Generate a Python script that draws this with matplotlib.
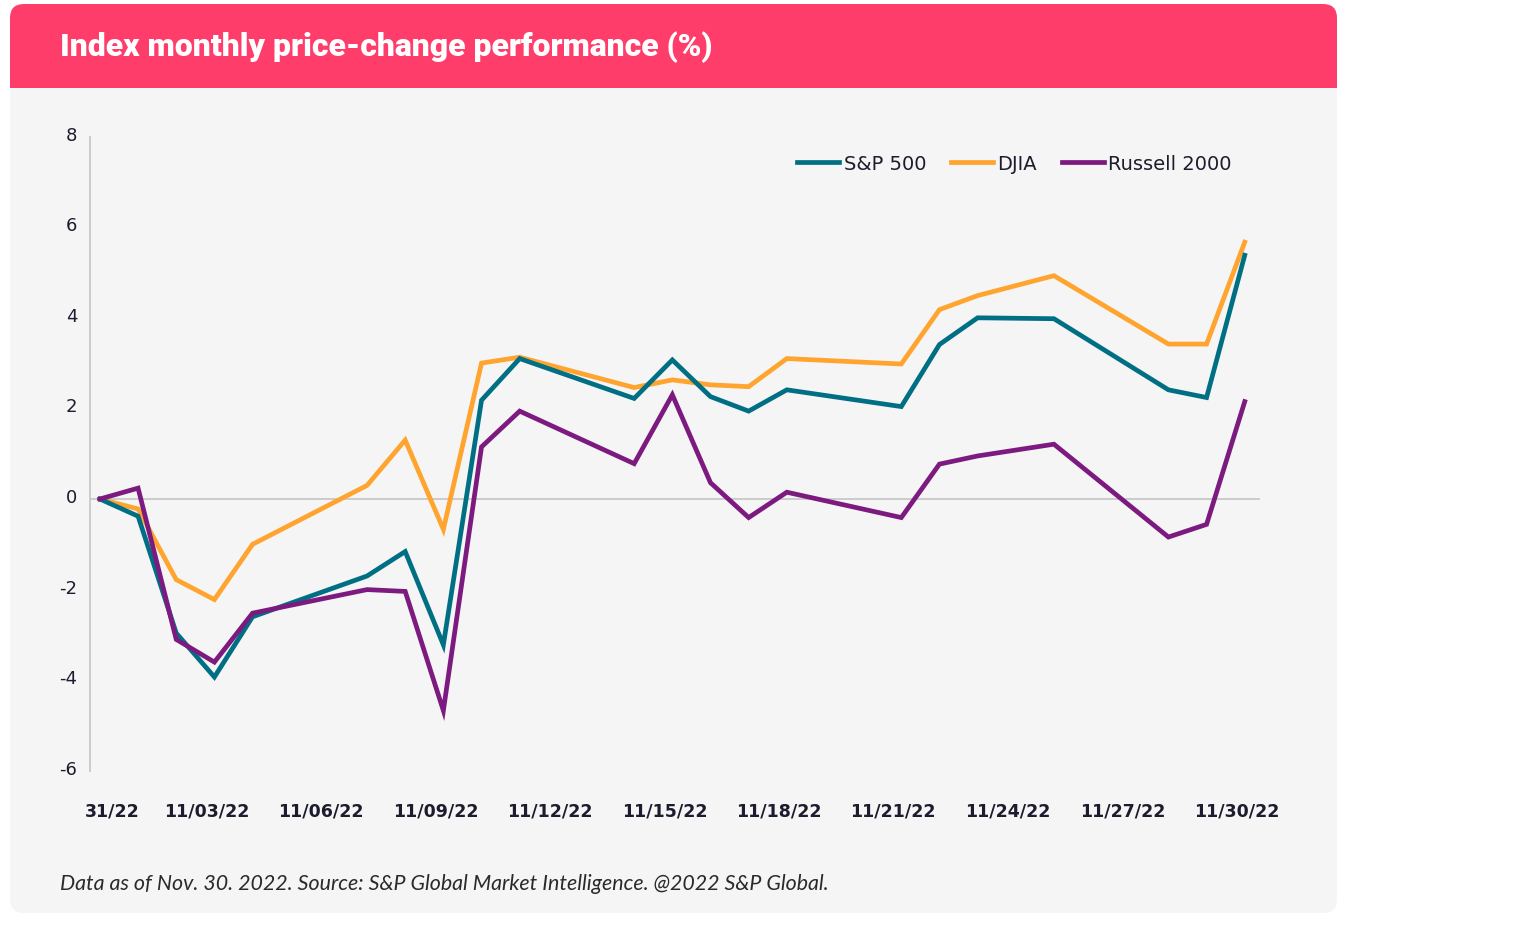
import numpy as np
import matplotlib
matplotlib.use("Agg")
import matplotlib.pyplot as plt
import matplotlib.dates as mdates
from matplotlib.patches import FancyBboxPatch, Rectangle
from matplotlib.transforms import Affine2D, ScaledTranslation

# trading days shown on the chart
dates = np.array(["2022-10-31", "2022-11-01", "2022-11-02", "2022-11-03", "2022-11-04",
                  "2022-11-07", "2022-11-08", "2022-11-09", "2022-11-10", "2022-11-11",
                  "2022-11-14", "2022-11-15", "2022-11-16", "2022-11-17", "2022-11-18",
                  "2022-11-21", "2022-11-22", "2022-11-23", "2022-11-25", "2022-11-28",
                  "2022-11-29", "2022-11-30"], dtype="datetime64[D]")

sp500 = [0, -0.38, -2.96, -3.93, -2.6, -1.7, -1.16, -3.22, 2.18, 3.1, 2.22,
         3.07, 2.26, 1.94, 2.41, 2.04, 3.41, 4.0, 3.98, 2.41, 2.24, 5.38]
djia = [0, -0.22, -1.78, -2.22, -1.0, 0.3, 1.3, -0.67, 3.0, 3.13, 2.46,
        2.63, 2.52, 2.48, 3.1, 2.98, 4.18, 4.49, 4.93, 3.42, 3.42, 5.67]
russell = [0, 0.24, -3.1, -3.6, -2.52, -2.0, -2.04, -4.67, 1.15, 1.94, 0.78,
           2.3, 0.36, -0.41, 0.15, -0.41, 0.77, 0.95, 1.21, -0.84, -0.56, 2.15]

tick_dates = np.arange(np.datetime64("2022-10-31"), np.datetime64("2022-12-01"), 3)
tick_labels = ["31/22", "11/03/22", "11/06/22", "11/09/22", "11/12/22", "11/15/22",
               "11/18/22", "11/21/22", "11/24/22", "11/27/22", "11/30/22"]
y_ticks = [-6, -4, -2, 0, 2, 4, 6, 8]

TITLE = "Index monthly price-change performance (%)"
NOTE = "Data as of Nov. 30. 2022. Source: S&P Global Market Intelligence. @2022 S&P Global."

W, H, DPI = 1536, 929, 100
PINK = "#ff3d6a"
CARD = "#f5f5f5"
INK = "#1c1c2e"
GRID = "#c8c8c8"

fig = plt.figure(figsize=(W / DPI, H / DPI), dpi=DPI, facecolor="white")
# top-left origin pixel transform
px = Affine2D().scale(1 / DPI, -1 / DPI).translate(0, H / DPI) + fig.dpi_scale_trans

card = FancyBboxPatch((10, 5), 1327, 909, boxstyle="round,pad=0,rounding_size=14",
                      transform=px, facecolor=CARD, edgecolor="none", zorder=-10)
header = FancyBboxPatch((10, 5), 1327, 84, boxstyle="round,pad=0,rounding_size=14",
                        transform=px, facecolor=PINK, edgecolor="none", zorder=-9)
header_fill = Rectangle((10, 50), 1327, 39, transform=px, facecolor=PINK,
                        edgecolor="none", zorder=-9)
for p in (card, header, header_fill):
    fig.add_artist(p)

# axes box in pixels: left 90, right 1260, top 137.6, bottom 771.8
ax_l, ax_r, ax_t, ax_b = 90, 1260, 137.6, 771.8
ax = fig.add_axes([ax_l / W, (H - ax_b) / H, (ax_r - ax_l) / W, (ax_b - ax_t) / H])
ax.patch.set_visible(False)

x = mdates.date2num(dates.astype("datetime64[s]").astype(object))
ax.plot(x, sp500, color="#006f84", lw=3.4, label="S&P 500", solid_joinstyle="miter", zorder=3)
ax.plot(x, djia, color="#ffa42e", lw=3.4, label="DJIA", solid_joinstyle="miter", zorder=2)
ax.plot(x, russell, color="#7c1a80", lw=3.4, label="Russell 2000", solid_joinstyle="miter", zorder=4)
ax.axhline(0, color=GRID, lw=1.3, zorder=1)

x0 = x[0]
ax.set_xlim(x0 - 0.26, x0 + 30.4)
ax.set_ylim(-6, 8)

for s in ("top", "right", "bottom"):
    ax.spines[s].set_visible(False)
ax.spines["left"].set_color(GRID)
ax.spines["left"].set_linewidth(1.3)

tx = mdates.date2num(tick_dates.astype("datetime64[s]").astype(object))
ax.set_xticks(tx)
ax.set_xticklabels(tick_labels)
ax.set_yticks(y_ticks)
ax.set_yticklabels([str(v) for v in y_ticks])
ax.tick_params(axis="x", length=0, pad=22, labelsize=12.5, labelcolor=INK)
ax.tick_params(axis="y", length=0, pad=9, labelsize=13, labelcolor=INK)
for i, lab in enumerate(ax.get_xticklabels()):
    lab.set_fontweight("bold")
    dx = 0.12 if i == 0 else -0.08
    lab.set_transform(lab.get_transform() + ScaledTranslation(dx, 0, fig.dpi_scale_trans))
for lab in ax.get_yticklabels():
    lab.set_transform(lab.get_transform() + ScaledTranslation(0, 0.04, fig.dpi_scale_trans))

leg = ax.legend(loc="center right", bbox_to_anchor=(0.976, 0.958), ncol=3, frameon=False,
                fontsize=14, handlelength=2.15, handletextpad=0.22, columnspacing=1.3,
                borderpad=0, borderaxespad=0)
for t in leg.get_texts():
    t.set_color(INK)

title = fig.text(60, 47, TITLE, transform=px, color="white", fontsize=20,
                 fontweight="heavy", family="Roboto", va="center", ha="left")
note = fig.text(60, 884, NOTE, transform=px, color="#2a2a2a", fontsize=12,
                style="italic", family="Lato", va="center", ha="left")

# fit text widths to the reference
fig.canvas.draw()
r = fig.canvas.get_renderer()
for t, target in ((title, 654), (note, 768)):
    w = t.get_window_extent(r).width
    t.set_fontsize(t.get_fontsize() * target / w)

fig.savefig("out.png", dpi=DPI, facecolor="white")
